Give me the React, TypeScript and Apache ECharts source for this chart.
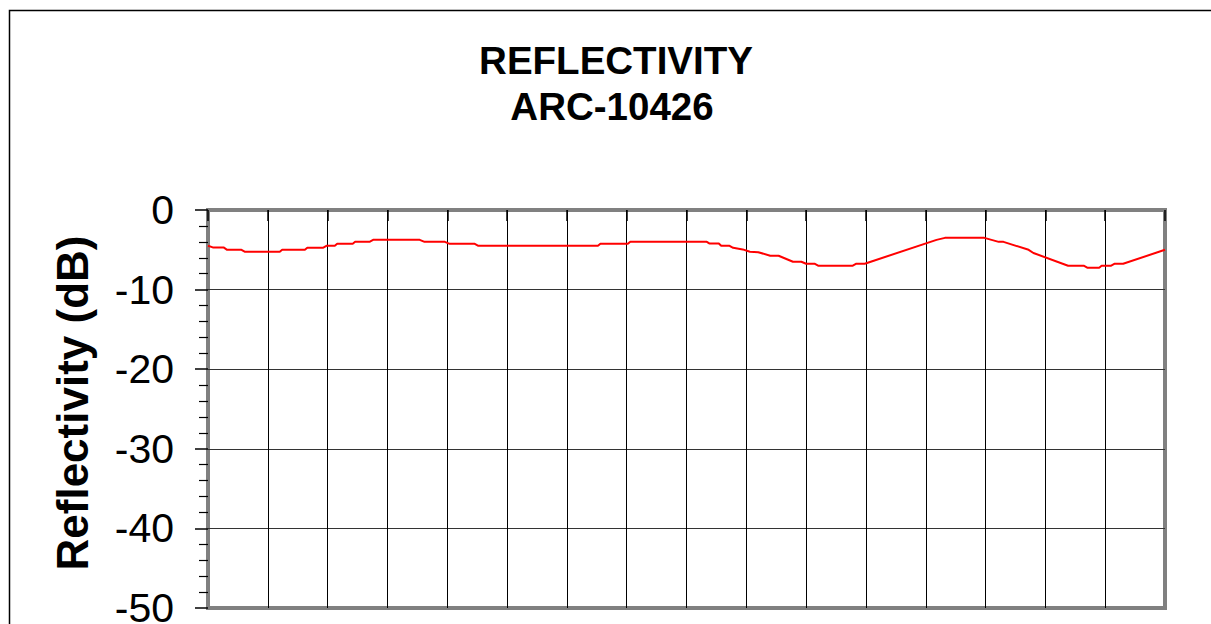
import React, { useEffect, useRef } from "react";
import * as echarts from "echarts";

// Wavelength-like x positions (axis spans 400..1200 with gridlines every 50)
const xValues = [
  400, 404, 413, 416, 428, 431, 460, 462, 481, 483, 496, 499, 506, 508, 521, 523,
  535, 538, 577, 581, 598, 602, 623, 626, 726, 728, 751, 753, 817, 819, 827, 829,
  836, 839, 847, 853, 860, 870, 877, 889, 896, 900, 907, 910, 939, 942, 949, 1009,
  1016, 1049, 1061, 1065, 1086, 1090, 1119, 1132, 1135, 1145, 1147, 1155, 1158, 1165, 1200,
];
const reflectivity = [
  -4.5, -4.7, -4.7, -5.0, -5.0, -5.25, -5.25, -5.0, -5.0, -4.75, -4.75, -4.5, -4.5, -4.25, -4.25, -4.0,
  -4.0, -3.75, -3.75, -4.0, -4.0, -4.25, -4.25, -4.5, -4.5, -4.25, -4.25, -4.0, -4.0, -4.2, -4.2, -4.5,
  -4.5, -4.75, -4.95, -5.25, -5.3, -5.75, -5.75, -6.5, -6.5, -6.75, -6.75, -7.0, -7.0, -6.75, -6.75, -3.75,
  -3.5, -3.5, -4.0, -4.0, -5.0, -5.4, -7.0, -7.0, -7.25, -7.25, -7.0, -7.0, -6.75, -6.75, -5.0,
];
const yTicks = [0, -10, -20, -30, -40, -50];
const titleLines = ["REFLECTIVITY", "ARC-10426"];
const yAxisTitle = "Reflectivity (dB)";

export default function App() {
  const ref = useRef<HTMLDivElement>(null);
  useEffect(() => {
    if (!ref.current) return;
    const chart = echarts.init(ref.current, undefined, { renderer: "svg" });
    const font = "'Liberation Sans', Arial, sans-serif";
    chart.setOption({
      animation: false,
      backgroundColor: "#ffffff",
      grid: {
        left: 208,
        top: 210,
        right: 105,
        bottom: 122,
        show: true,
        borderColor: "#808080",
        borderWidth: 4,
        backgroundColor: "transparent",
      },
      xAxis: {
        type: "value",
        min: 400,
        max: 1200,
        interval: 50,
        axisLine: { show: false },
        axisTick: { show: true, length: 11, lineStyle: { color: "#000", width: 1.5 } },
        axisLabel: { show: false },
        splitLine: { show: true, showMinLine: false, showMaxLine: false, lineStyle: { color: "#000", width: 1 } },
      },
      yAxis: {
        type: "value",
        min: yTicks[yTicks.length - 1],
        max: yTicks[0],
        interval: 10,
        axisLine: { show: false },
        axisTick: { show: true, length: 13, lineStyle: { color: "#000", width: 1.5 } },
        minorTick: { show: true, splitNumber: 5, length: 9, lineStyle: { color: "#000", width: 1.2 } },
        axisLabel: {
          color: "#000",
          fontSize: 41,
          fontFamily: font,
          margin: 34,
        },
        splitLine: { show: true, showMinLine: false, showMaxLine: false, lineStyle: { color: "#333", width: 1 } },
      },
      graphic: [
        {
          type: "rect",
          shape: { x: 9.5, y: 10.5, width: 1400, height: 1000 },
          style: { fill: "none", stroke: "#000", lineWidth: 1.5 },
          silent: true,
        },
        {
          type: "text",
          x: 616,
          y: 60,
          style: {
            text: titleLines[0],
            font: `bold 38.5px ${font}`,
            fill: "#000",
            textAlign: "center",
            textVerticalAlign: "middle",
          },
        },
        {
          type: "text",
          x: 612,
          y: 106,
          style: {
            text: titleLines[1],
            font: `bold 38.5px ${font}`,
            fill: "#000",
            textAlign: "center",
            textVerticalAlign: "middle",
          },
        },
        {
          type: "text",
          x: 72,
          y: 403,
          rotation: Math.PI / 2,
          style: {
            text: yAxisTitle,
            font: `bold 44px ${font}`,
            fill: "#000",
            textAlign: "center",
            textVerticalAlign: "middle",
          },
        },
      ],
      series: [
        {
          type: "line",
          data: xValues.map((x, i) => [x, reflectivity[i]]),
          showSymbol: false,
          lineStyle: { color: "#ff0000", width: 2 },
          itemStyle: { color: "#ff0000" },
        },
      ],
    });
    return () => chart.dispose();
  }, []);
  return (
    <div style={{ position: "fixed", left: 0, top: 0, width: 1211, height: 624, overflow: "hidden", background: "#fff" }}>
      <div ref={ref} style={{ position: "absolute", left: 0, top: 0, width: 1270, height: 730 }} />
    </div>
  );
}
